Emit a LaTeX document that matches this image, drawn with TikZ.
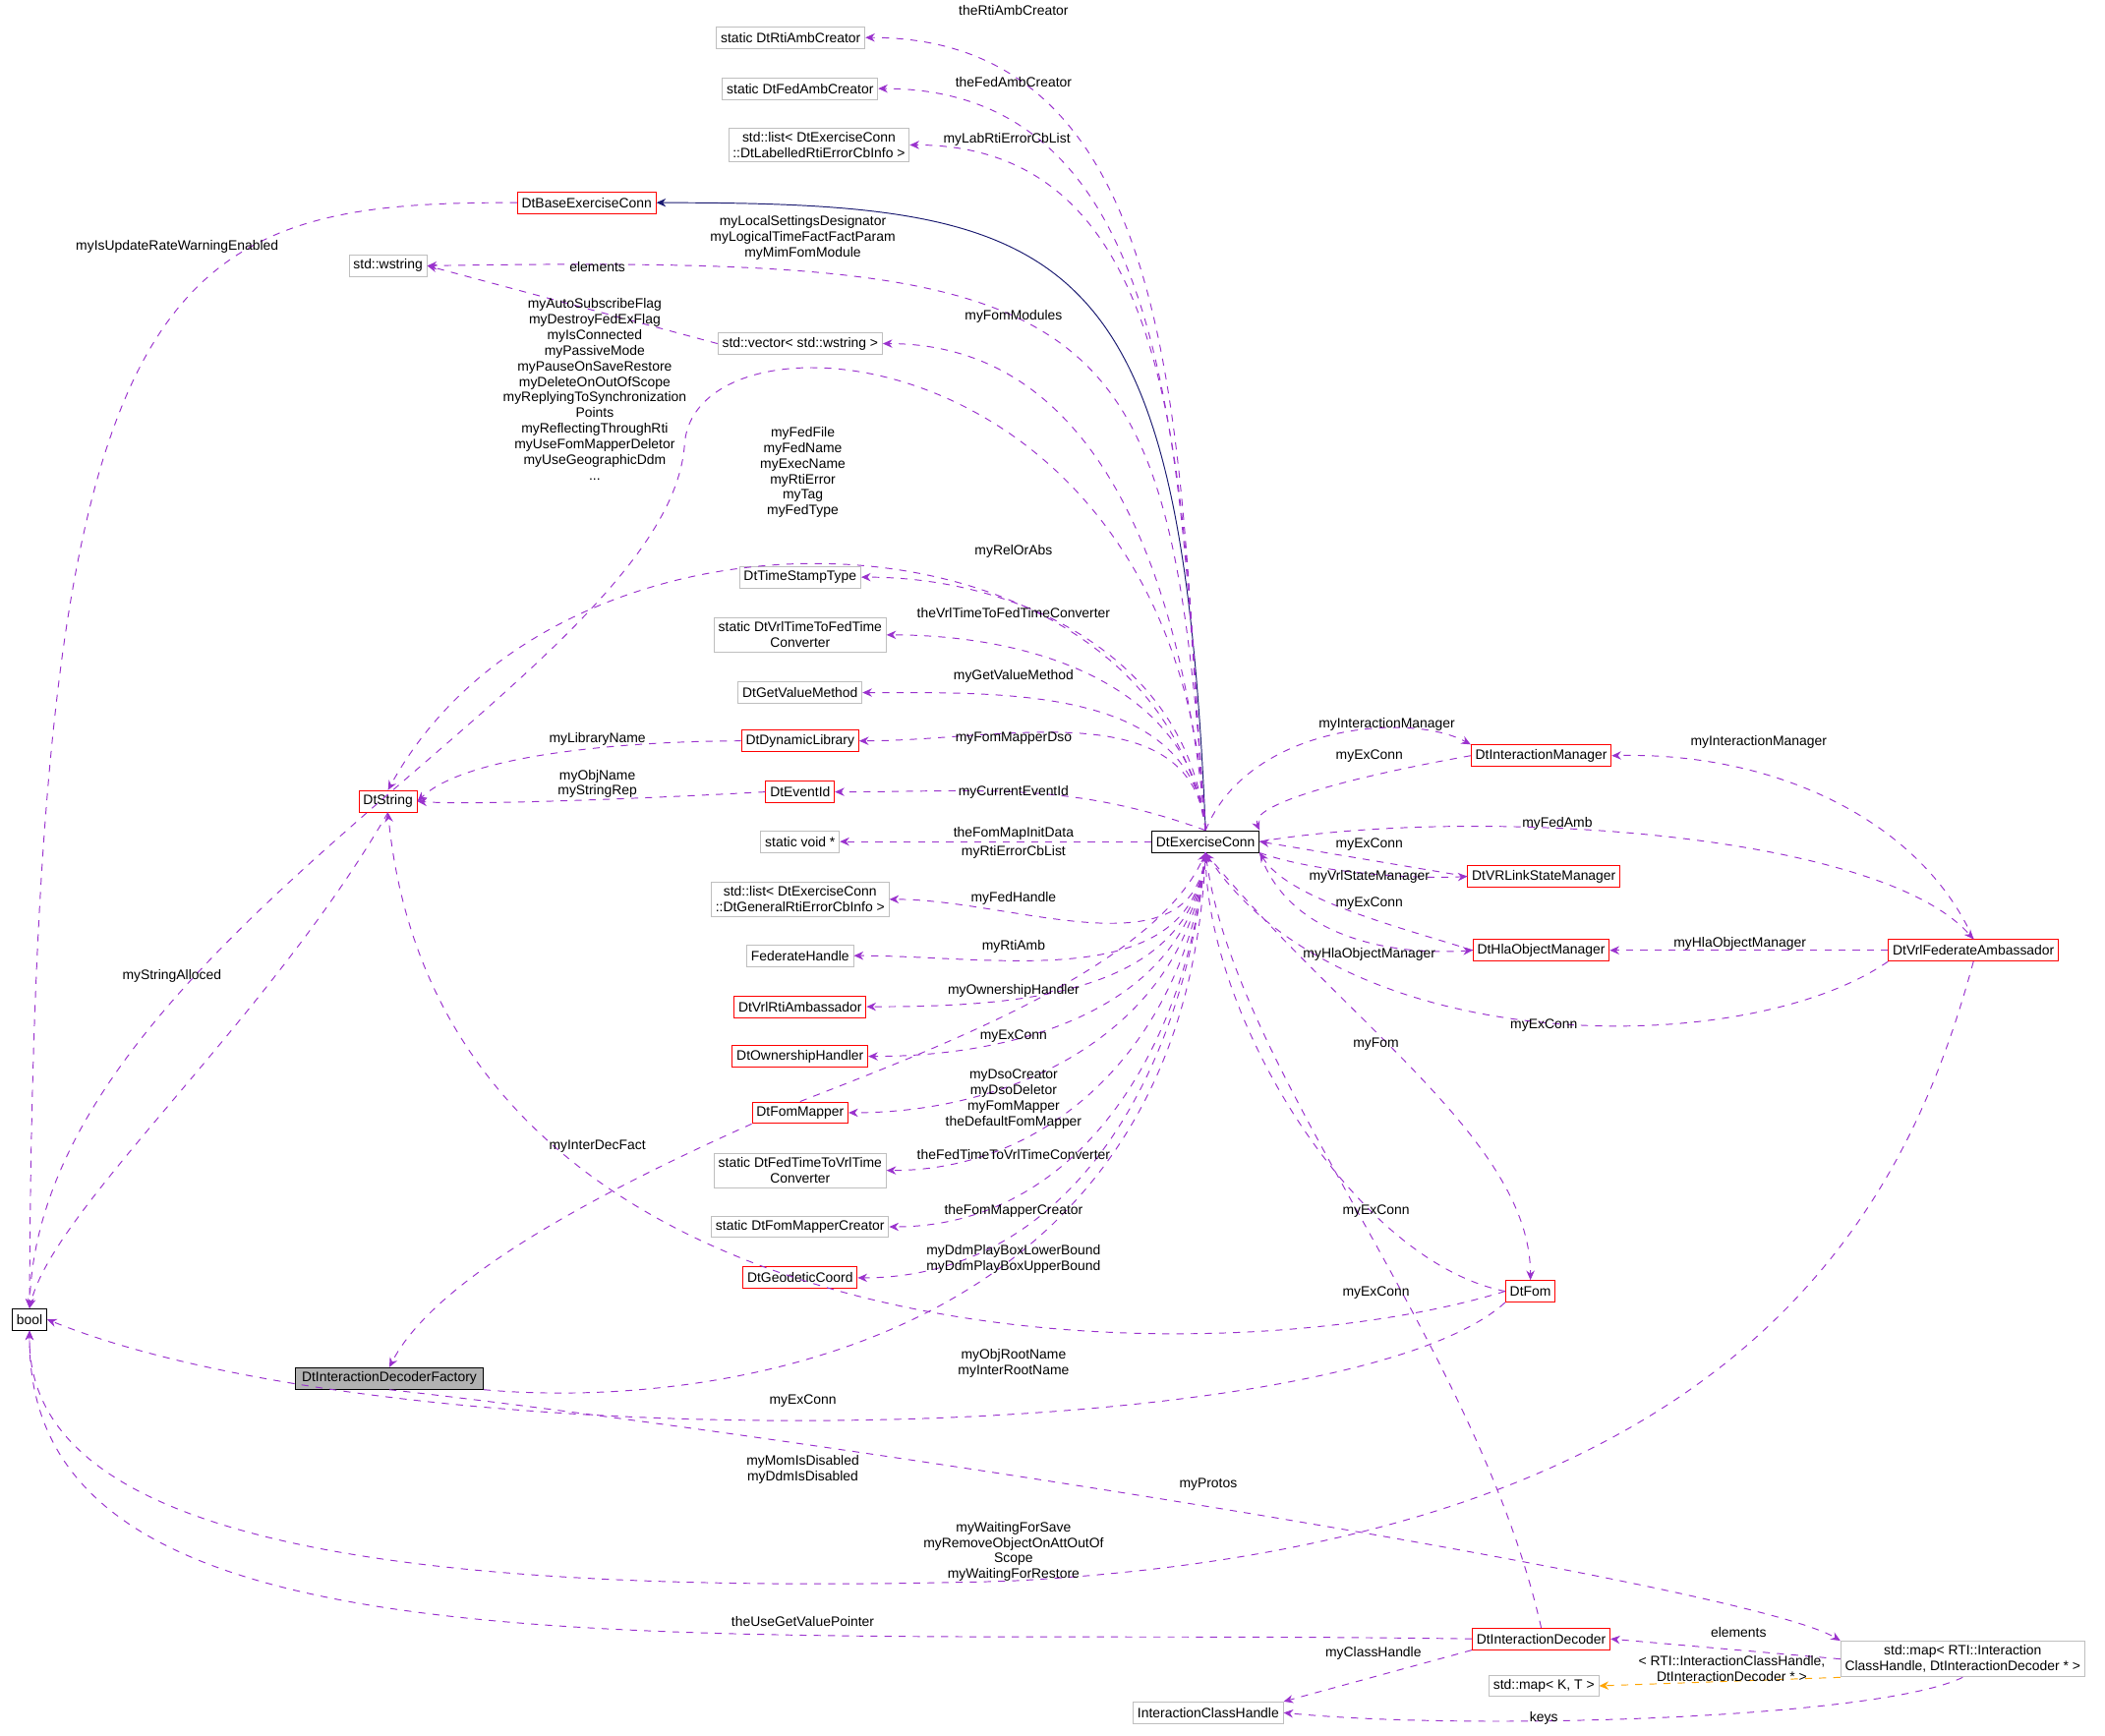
\documentclass[tikz,border=0pt]{standalone}
\usepackage{fontspec}
\setmainfont{Liberation Sans}
\usetikzlibrary{arrows.meta}
\definecolor{mem}{HTML}{9A32CD}
\definecolor{inh}{HTML}{191970}
\definecolor{tpl}{HTML}{FFA500}
\definecolor{gbox}{HTML}{BFBFBF}
\begin{document}
\begin{tikzpicture}[x=0.02cm, y=-0.02cm, >={Stealth[length=4pt,width=3.5pt]},
  font=\fontsize{5.8}{6.6}\selectfont,
  cls/.style={draw=gbox, fill=white, inner sep=1.8pt, minimum height=0.32cm, align=center},
  rcls/.style={cls, draw=red},
  bcls/.style={cls, draw=black},
  mem/.style={draw=mem, dashed, ->},
  lbl/.style={align=center, inner sep=0pt}]
  \useasboundingbox (0,0) rectangle (1568,1293);
  % classes
  \node[cls] (rtiamb) at (589,28) {static DtRtiAmbCreator};
  \node[cls] (fedamb) at (596,66) {static DtFedAmbCreator};
  \node[cls] (lablist) at (610,108) {std::list< DtExerciseConn\\::DtLabelledRtiErrorCbInfo >};
  \node[rcls] (base) at (437,151) {DtBaseExerciseConn};
  \node[cls] (wstr) at (289,198) {std::wstring};
  \node[cls] (vec) at (596,256) {std::vector< std::wstring >};
  \node[cls] (tst) at (596,430) {DtTimeStampType};
  \node[cls] (v2f) at (596,473) {static DtVrlTimeToFedTime\\Converter};
  \node[cls] (gvm) at (596,516) {DtGetValueMethod};
  \node[rcls] (dynlib) at (596,552) {DtDynamicLibrary};
  \node[rcls] (evid) at (596,590) {DtEventId};
  \node[cls] (voidp) at (596,627) {static void *};
  \node[cls] (genlist) at (596,670) {std::list< DtExerciseConn\\::DtGeneralRtiErrorCbInfo >};
  \node[cls] (fedh) at (596,712) {FederateHandle};
  \node[rcls] (vrlrti) at (596,750) {DtVrlRtiAmbassador};
  \node[rcls] (owner) at (596,787) {DtOwnershipHandler};
  \node[rcls] (fmap) at (596,829) {DtFomMapper};
  \node[cls] (f2v) at (596,872) {static DtFedTimeToVrlTime\\Converter};
  \node[cls] (fmc) at (596,914) {static DtFomMapperCreator};
  \node[rcls] (geo) at (596,952) {DtGeodeticCoord};
  \node[rcls] (dtstr) at (289,597) {DtString};
  \node[bcls] (bool) at (22,983) {bool};
  \node[bcls, fill=gray!60, minimum width=2.8cm] (idf) at (290,1027) {DtInteractionDecoderFactory};
  \node[bcls] (ex) at (898,627) {DtExerciseConn};
  \node[rcls] (im) at (1148,563) {DtInteractionManager};
  \node[rcls] (vrls) at (1150,653) {DtVRLinkStateManager};
  \node[rcls] (hla) at (1148,708) {DtHlaObjectManager};
  \node[rcls] (vfa) at (1470,708) {DtVrlFederateAmbassador};
  \node[rcls] (fom) at (1140,962) {DtFom};
  \node[rcls] (idec) at (1148,1221) {DtInteractionDecoder};
  \node[cls] (map) at (1462,1236) {std::map< RTI::Interaction\\ClassHandle, DtInteractionDecoder * >};
  \node[cls] (mapkt) at (1150,1256) {std::map< K, T >};
  \node[cls] (ich) at (900,1276) {InteractionClassHandle};
  % inheritance
  \draw[draw=inh, ->] (ex.north) .. controls (880,180) and (800,151) .. (base.east);
  % members of DtExerciseConn, left column
  \foreach \t in {rtiamb, fedamb, lablist, vec, tst, v2f, gvm, dynlib}
    \draw[mem] (ex.north) to[out=95,in=0] (\t.east);
  \draw[mem] (ex.north) .. controls (870,220) and (830,190) .. (wstr.east);
  \draw[mem] (ex.north) to[out=160,in=0] (evid.east);
  \draw[mem] (ex.west) -- (voidp.east);
  \foreach \t in {genlist, fedh, vrlrti, owner, fmap, f2v, fmc, geo}
    \draw[mem] (ex.south) to[out=-95,in=0] (\t.east);
  \draw[mem] (fmap.north) .. controls (700,780) and (860,720) .. (ex.south);
  \draw[mem] (ex.north) .. controls (880,250) and (520,220) .. (510,330) .. controls (500,500) and (30,700) .. (bool.north);
  \draw[mem] (ex.north) .. controls (860,370) and (420,350) .. (dtstr.north);
  \draw[mem] (vec.west) -- (wstr.east);
  \draw[mem] (base.west) .. controls (120,150) and (25,200) .. (bool.north);
  \draw[mem] (dynlib.west) .. controls (480,552) and (350,560) .. (dtstr.east);
  \draw[mem] (evid.west) .. controls (480,595) and (350,600) .. (dtstr.east);
  \draw[mem] (dtstr.south) .. controls (200,760) and (40,900) .. (bool.north);
  \draw[mem] (fmap.south west) .. controls (420,900) and (320,960) .. (idf.north);
  \draw[mem] (idf.south east) .. controls (520,1050) and (880,1010) .. (ex.south);
  \draw[mem] (fom.west) .. controls (900,1030) and (330,1020) .. (dtstr.south);
  \draw[mem] (fom.south west) .. controls (1000,1080) and (300,1090) .. (bool.east);
  \draw[mem] (vfa.south) .. controls (1420,900) and (1300,1150) .. (750,1178) .. controls (300,1190) and (20,1150) .. (bool.south);
  \draw[mem] (idf.south) .. controls (600,1070) and (1300,1180) .. (map.north west);
  \draw[mem] (idec.west) .. controls (500,1212) and (20,1260) .. (bool.south);
  \draw[mem] (idec.south west) -- (ich.north east);
  \draw[mem] (map.west) -- (idec.east);
  \draw[draw=tpl, dashed, ->] (map.south west) -- (mapkt.east);
  \draw[mem] (map.south) .. controls (1400,1280) and (1100,1290) .. (ich.east);
  \draw[mem] (idec.north) .. controls (1100,1000) and (920,800) .. (ex.south);
  % right side
  \draw[mem] (ex.north) .. controls (930,540) and (1050,530) .. (im.north west);
  \draw[mem] (im.west) .. controls (1000,580) and (930,600) .. (ex.north east);
  \draw[mem] (vrls.west) -- (ex.east);
  \draw[mem] (ex.south east) .. controls (980,650) and (1050,655) .. (vrls.west);
  \draw[mem] (hla.west) .. controls (1040,690) and (960,670) .. (ex.south east);
  \draw[mem] (ex.south east) .. controls (960,700) and (1040,712) .. (hla.west);
  \draw[mem] (vfa.north) .. controls (1430,610) and (1320,560) .. (im.east);
  \draw[mem] (ex.east) .. controls (1100,600) and (1400,620) .. (vfa.north);
  \draw[mem] (vfa.west) -- (hla.east);
  \draw[mem] (vfa.south west) .. controls (1300,790) and (1000,790) .. (ex.south);
  \draw[mem] (ex.south) .. controls (1000,760) and (1140,850) .. (fom.north);
  \draw[mem] (fom.west) .. controls (1010,940) and (900,760) .. (ex.south);
  % labels
  \node[lbl] at (755,8) {theRtiAmbCreator};
  \node[lbl] at (755,61) {theFedAmbCreator};
  \node[lbl] at (750,104) {myLabRtiErrorCbList};
  \node[lbl] at (598,177) {myLocalSettingsDesignator\\myLogicalTimeFactFactParam\\myMimFomModule};
  \node[lbl] at (445,199) {elements};
  \node[lbl] at (755,236) {myFomModules};
  \node[lbl] at (443,290) {myAutoSubscribeFlag\\myDestroyFedExFlag\\myIsConnected\\myPassiveMode\\myPauseOnSaveRestore\\myDeleteOnOutOfScope\\myReplyingToSynchronization\\Points\\myReflectingThroughRti\\myUseFomMapperDeletor\\myUseGeographicDdm\\...};
  \node[lbl] at (598,352) {myFedFile\\myFedName\\myExecName\\myRtiError\\myTag\\myFedType};
  \node[lbl] at (132,184) {myIsUpdateRateWarningEnabled};
  \node[lbl] at (755,411) {myRelOrAbs};
  \node[lbl] at (755,457) {theVrlTimeToFedTimeConverter};
  \node[lbl] at (755,504) {myGetValueMethod};
  \node[lbl] at (755,550) {myFomMapperDso};
  \node[lbl] at (445,551) {myLibraryName};
  \node[lbl] at (445,584) {myObjName\\myStringRep};
  \node[lbl] at (755,590) {myCurrentEventId};
  \node[lbl] at (755,621) {theFomMapInitData};
  \node[lbl] at (755,635) {myRtiErrorCbList};
  \node[lbl] at (755,669) {myFedHandle};
  \node[lbl] at (755,705) {myRtiAmb};
  \node[lbl] at (755,738) {myOwnershipHandler};
  \node[lbl] at (755,772) {myExConn};
  \node[lbl] at (755,819) {myDsoCreator\\myDsoDeletor\\myFomMapper\\theDefaultFomMapper};
  \node[lbl] at (755,860) {theFedTimeToVrlTimeConverter};
  \node[lbl] at (755,902) {theFomMapperCreator};
  \node[lbl] at (755,938) {myDdmPlayBoxLowerBound\\myDdmPlayBoxUpperBound};
  \node[lbl] at (128,727) {myStringAlloced};
  \node[lbl] at (445,854) {myInterDecFact};
  \node[lbl] at (755,1016) {myObjRootName\\myInterRootName};
  \node[lbl] at (598,1044) {myExConn};
  \node[lbl] at (1033,540) {myInteractionManager};
  \node[lbl] at (1020,563) {myExConn};
  \node[lbl] at (1160,614) {myFedAmb};
  \node[lbl] at (1020,629) {myExConn};
  \node[lbl] at (1020,653) {myVrlStateManager};
  \node[lbl] at (1020,673) {myExConn};
  \node[lbl] at (1020,711) {myHlaObjectManager};
  \node[lbl] at (1310,553) {myInteractionManager};
  \node[lbl] at (1296,703) {myHlaObjectManager};
  \node[lbl] at (1150,764) {myExConn};
  \node[lbl] at (1025,778) {myFom};
  \node[lbl] at (1025,902) {myExConn};
  \node[lbl] at (1025,963) {myExConn};
  \node[lbl] at (598,1095) {myMomIsDisabled\\myDdmIsDisabled};
  \node[lbl] at (900,1106) {myProtos};
  \node[lbl] at (755,1156) {myWaitingForSave\\myRemoveObjectOnAttOutOf\\Scope\\myWaitingForRestore};
  \node[lbl] at (598,1208) {theUseGetValuePointer};
  \node[lbl] at (1023,1232) {myClassHandle};
  \node[lbl] at (1295,1216) {elements};
  \node[lbl] at (1290,1243) {< RTI::InteractionClassHandle,\\DtInteractionDecoder * >};
  \node[lbl] at (1150,1280) {keys};
\end{tikzpicture}
\end{document}
